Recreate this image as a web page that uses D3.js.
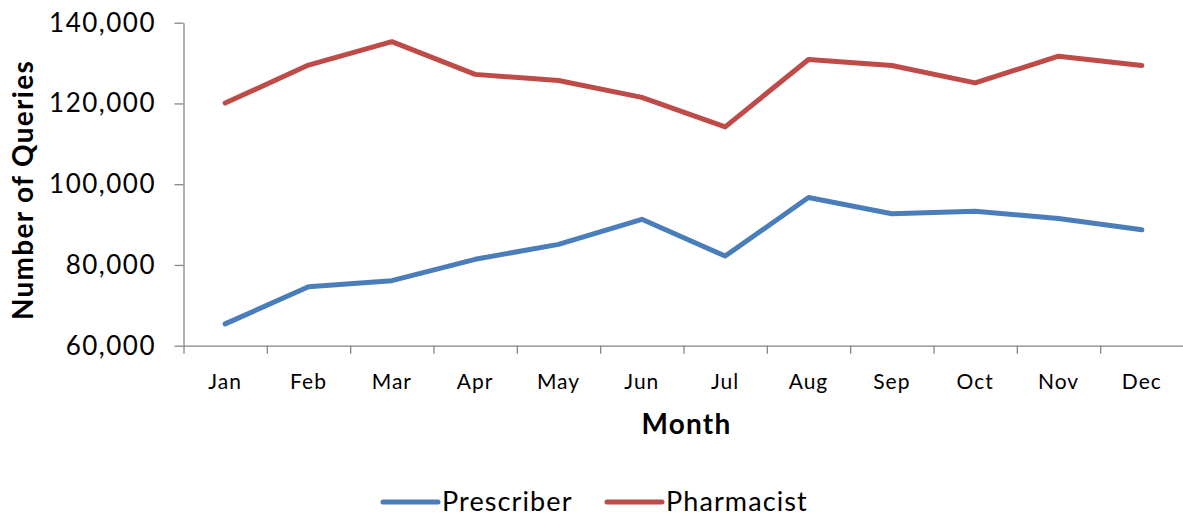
<!DOCTYPE html>
<meta charset='utf-8'>
<style>
  body { margin: 0; background: #fff; }
  svg text { font-family: Lato, 'Open Sans', sans-serif; fill: #000; }
  .axis path, .axis line { stroke: #868686; stroke-width: 1.3px; }
</style>
<svg width='1183' height='514'></svg>
<script src='https://cdn.jsdelivr.net/npm/d3@7'></script>
<script>
  var months = ['Jan', 'Feb', 'Mar', 'Apr', 'May', 'Jun', 'Jul', 'Aug', 'Sep', 'Oct', 'Nov', 'Dec'];
  var prescriber = [65400, 74600, 76100, 81400, 85100, 91300, 82200, 96700, 92700, 93300, 91500, 88700];
  var pharmacist = [120100, 129500, 135300, 127200, 125700, 121500, 114200, 130900, 129400, 125100, 131700, 129400];
  var yTicks = [60000, 80000, 100000, 120000, 140000];
  var seriesNames = ['Prescriber', 'Pharmacist'];
  var colors = ['#4A7EBB', '#BE4B48'];

  var svg = d3.select('svg');
  var plotLeft = 183.5, plotRight = 1183.5, plotTop = 22.7, plotBottom = 345.7;

  var x = d3.scaleBand().domain(months).range([plotLeft, plotRight]);
  var xEdge = d3.scaleLinear().domain([0, months.length]).range([plotLeft, plotRight]);
  var y = d3.scaleLinear().domain([60000, 140000]).range([plotBottom, plotTop]);

  // x axis: ticks between categories
  svg.append('g')
      .attr('class', 'axis')
      .attr('transform', 'translate(0,' + plotBottom + ')')
      .call(d3.axisBottom(xEdge).tickValues(d3.range(0, months.length + 1)).tickSize(8).tickSizeOuter(0).tickFormat(''));

  svg.append('g')
      .attr('transform', 'translate(0,' + plotBottom + ')')
      .call(d3.axisBottom(x).tickSize(0).tickPadding(0))
      .call(g => g.select('.domain').remove())
      .selectAll('text')
        .attr('y', 43).attr('dy', null)
        .style('font-size', '21px')
        .style('letter-spacing', '1px');

  // y axis
  svg.append('g')
      .attr('class', 'axis')
      .attr('transform', 'translate(' + plotLeft + ',0)')
      .call(d3.axisLeft(y).tickValues(yTicks).tickSize(9).tickSizeOuter(0).tickPadding(18.5).tickFormat(d3.format(',')))
      .selectAll('text')
        .style('font-size', '26px')
        .style('letter-spacing', '1.5px');

  svg.selectAll('.axis text').attr('fill', '#000');

  // lines
  var line = d3.line()
      .x((d, i) => x(months[i]) + x.bandwidth() / 2)
      .y(d => y(d));

  svg.append('g')
    .selectAll('path')
    .data([prescriber, pharmacist])
    .enter().append('path')
      .attr('d', line)
      .attr('fill', 'none')
      .attr('stroke', (d, i) => colors[i])
      .attr('stroke-width', 5)
      .attr('stroke-linecap', 'round')
      .attr('stroke-linejoin', 'round');

  // titles
  svg.append('text')
      .attr('x', (plotLeft + plotRight) / 2 + 3)
      .attr('y', 434)
      .attr('text-anchor', 'middle')
      .style('font-size', '28px')
      .style('font-weight', 'bold')
      .style('letter-spacing', '1.2px')
      .text('Month');

  svg.append('text')
      .attr('transform', 'translate(33,190) rotate(-90)')
      .attr('text-anchor', 'middle')
      .style('font-size', '28px')
      .style('font-weight', 'bold')
      .style('letter-spacing', '1.3px')
      .text('Number of Queries');

  // legend
  var legendX = [383, 607];
  var legend = svg.append('g')
    .selectAll('g')
    .data(seriesNames)
    .enter().append('g')
      .attr('transform', (d, i) => 'translate(' + legendX[i] + ',502)');

  legend.append('line')
      .attr('x1', 0).attr('x2', 55)
      .attr('stroke', (d, i) => colors[i])
      .attr('stroke-width', 5)
      .attr('stroke-linecap', 'round');

  legend.append('text')
      .attr('x', 59)
      .attr('dy', '0.35em')
      .style('font-size', '27px')
      .style('letter-spacing', '1.1px')
      .text(d => d);
</script>
